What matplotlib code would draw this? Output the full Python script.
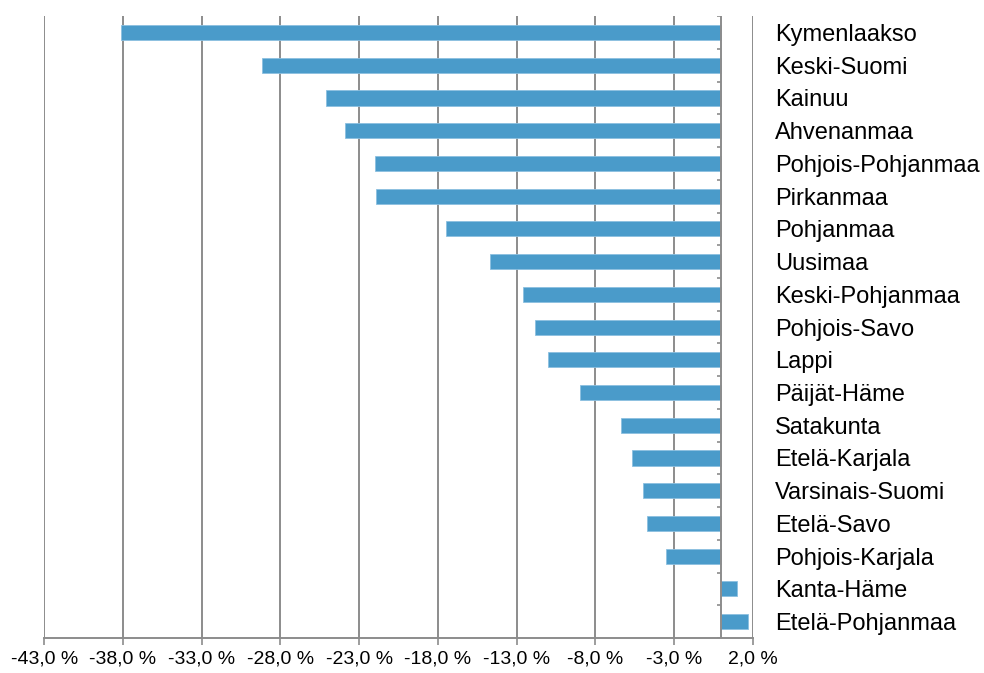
import numpy as np
import matplotlib.pyplot as plt
from matplotlib.ticker import FuncFormatter

# Maakunnat ylhäältä alas ja muutos prosentteina
maakunnat = ["Kymenlaakso", "Keski-Suomi", "Kainuu", "Ahvenanmaa",
             "Pohjois-Pohjanmaa", "Pirkanmaa", "Pohjanmaa", "Uusimaa",
             "Keski-Pohjanmaa", "Pohjois-Savo", "Lappi", "Päijät-Häme",
             "Satakunta", "Etelä-Karjala", "Varsinais-Suomi", "Etelä-Savo",
             "Pohjois-Karjala", "Kanta-Häme", "Etelä-Pohjanmaa"]
muutos = [-38.1, -29.2, -25.1, -23.9, -22.0, -21.9, -17.5, -14.7,
          -12.6, -11.8, -11.0, -9.0, -6.4, -5.7, -5.0, -4.7,
          -3.5, 1.0, 1.7]
x_ticks = [-43, -38, -33, -28, -23, -18, -13, -8, -3, 2]

plt.rcParams['font.family'] = ['Liberation Sans', 'DejaVu Sans']

fig = plt.figure(figsize=(9.84, 6.73), dpi=100)
ax = fig.add_axes([0.045, 0.052, 0.72, 0.924])

y = np.arange(len(maakunnat))
ax.barh(y, muutos, height=0.46, color='#4a9bca', edgecolor='#8cc0e0',
        linewidth=0.6, zorder=3)

ax.set_xlim(-43, 2)
ax.set_ylim(len(maakunnat) - 0.5, -0.5)
ax.set_xticks(x_ticks)
ax.xaxis.set_major_formatter(FuncFormatter(lambda v, p: f"{v:.1f} %".replace('.', ',')))
ax.tick_params(axis='x', length=5, width=1.2, color='#8c8c8c', labelsize=14, pad=4)
ax.grid(axis='x', color='#8c8c8c', linewidth=1.4, zorder=1)

# nimet oikealle puolelle
ax.yaxis.tick_right()
ax.set_yticks(y)
ax.set_yticklabels(maakunnat, fontsize=17)
ax.tick_params(axis='y', length=0, pad=16)

for s in ['top', 'left', 'right']:
    ax.spines[s].set_visible(False)
ax.spines['bottom'].set_color('#8c8c8c')
ax.spines['bottom'].set_linewidth(1.4)

# nollakohdan pystyakseli ja pienet jakoviivat
ax.axvline(0, color='#8c8c8c', linewidth=1.4, zorder=4)
rajat = np.arange(len(maakunnat) + 1) - 0.5
ax.hlines(rajat, -0.3, 0, color='#8c8c8c', linewidth=1.2, zorder=4)

fig.savefig("out.png", dpi=100)
